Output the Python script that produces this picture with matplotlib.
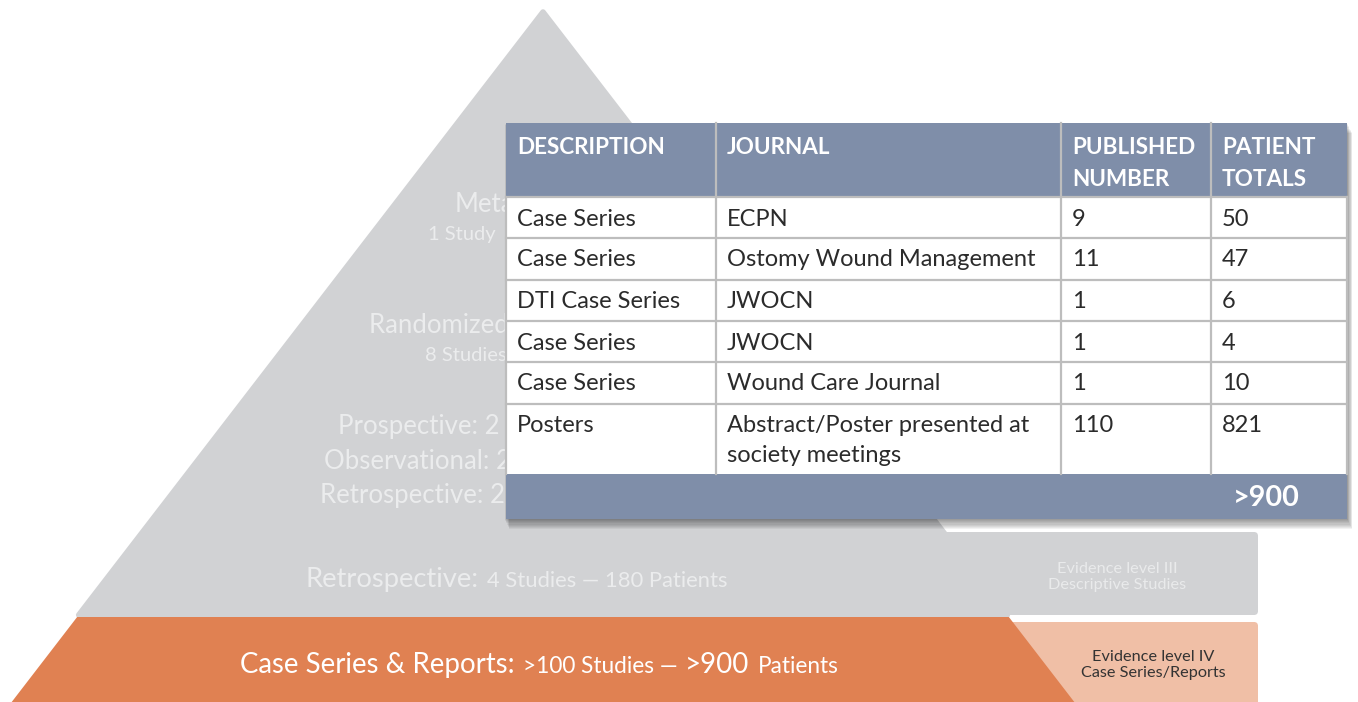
import matplotlib.pyplot as plt
from matplotlib.patches import Polygon, Rectangle, FancyBboxPatch

# table data
headers = ["DESCRIPTION", "JOURNAL", "PUBLISHED\nNUMBER", "PATIENT\nTOTALS"]
descriptions = ["Case Series", "Case Series", "DTI Case Series", "Case Series", "Case Series", "Posters"]
journals = ["ECPN", "Ostomy Wound Management", "JWOCN", "JWOCN", "Wound Care Journal",
            "Abstract/Poster presented at\nsociety meetings"]
published = [9, 11, 1, 1, 1, 110]
patients = [50, 47, 6, 4, 10, 821]
total_label = ">900"

# pyramid levels (label pieces: text, big/small)
top_levels = [
    [("Meta-Analysis", "big")],
    [("1 Study", "small")],
    [("Randomized Controlled Trials", "big")],
    [("8 Studies", "small")],
    [("Prospective: 2 Studies", "big")],
    [("Observational: 2 Studies", "big")],
    [("Retrospective: 2 Studies", "big")],
]
level3_label = [("Retrospective:", "big"), ("4 Studies \u2014 180 Patients", "small")]
level4_label = [("Case Series & Reports:", "big"), (">100 Studies \u2014", "small"),
                (">900", "big"), ("Patients", "small")]
level3_side = "Evidence level III\nDescriptive Studies"
level4_side = "Evidence level IV\nCase Series/Reports"

GRAY = "#D1D2D4"
ORANGE = "#E08152"
SALMON = "#F0BFA6"
HEAD = "#7F8EA9"
PYR_TEXT = "#EBECED"
FONT = "Lato"

W, H = 1358, 702
fig = plt.figure(figsize=(W / 100, H / 100), dpi=100)
ax = fig.add_axes([0, 0, 1, 1])
ax.set_xlim(0, W)
ax.set_ylim(H, 0)
ax.axis("off")

apex_x, apex_y, slope = 543, 12, 0.77


def edge(y, side):
    return apex_x + side * slope * (y - apex_y)


# side boxes
ax.add_patch(FancyBboxPatch((900, 532), 358, 83, boxstyle="round,pad=0,rounding_size=4",
                            fc=GRAY, ec="none", zorder=1))
ax.add_patch(FancyBboxPatch((950, 622), 308, 95, boxstyle="round,pad=0,rounding_size=4",
                            fc=SALMON, ec="none", zorder=1))

# pyramid
ax.add_patch(Polygon([(apex_x, apex_y), (edge(615, -1), 615), (edge(615, 1), 615)],
                     closed=True, fc=GRAY, ec=GRAY, lw=4, joinstyle="round", zorder=2))
ax.add_patch(Polygon([(edge(617, -1), 617), (edge(617, 1), 617),
                      (edge(712, 1), 712), (edge(712, -1), 712)],
                     closed=True, fc=ORANGE, ec="none", zorder=3))

renderer = fig.canvas.get_renderer()
table_clip = Rectangle((0, 0), 506, H, transform=ax.transData)


def draw_runs(x, y, pieces, color, big, small, gap=7, clip=False):
    sizes = {"big": big, "small": small}
    for text, kind in pieces:
        t = ax.text(x, y, text, fontsize=sizes[kind], color=color, family=FONT,
                    va="baseline", ha="left", zorder=4)
        if clip:
            t.set_clip_path(table_clip)
        bb = t.get_window_extent(renderer)
        x += bb.width + gap


top_pos = [(455, 212), (428, 240), (369, 333), (425, 361), (338, 434), (324, 469), (320, 503)]
for (x, y), pieces in zip(top_pos, top_levels):
    draw_runs(x, y, pieces, PYR_TEXT, big=18.5, small=14.5, clip=True)

draw_runs(305, 587, level3_label, PYR_TEXT, big=19.7, small=15.8, gap=9)
draw_runs(240, 673, level4_label, "white", big=19.9, small=16.3, gap=8)

ax.text(1117, 577, level3_side, ha="center", va="center", fontsize=11.7, color="#E9EAEB",
        family=FONT, linespacing=1.2, zorder=4)
ax.text(1153, 665, level4_side, ha="center", va="center", fontsize=11.7, color="#333333",
        family=FONT, linespacing=1.2, zorder=4)

# table
col_edges = [506, 716, 1061, 1211, 1347]
row_edges = [197, 238, 280, 321, 362, 404, 474]
top, foot_bottom = 123, 519
left, right = col_edges[0], col_edges[-1]

# shadow
for i in range(1, 10):
    ax.add_patch(Rectangle((left - 2 + i * 0.6, top + i * 1.1), right - left + 2, foot_bottom - top,
                           fc="black", ec="none", alpha=0.05, zorder=5))

ax.add_patch(Rectangle((left, top), right - left, row_edges[0] - top, fc=HEAD, ec="none", zorder=6))
ax.add_patch(Rectangle((left, row_edges[0]), right - left, row_edges[-1] - row_edges[0],
                       fc="white", ec="none", zorder=6))
ax.add_patch(Rectangle((left, row_edges[-1]), right - left, foot_bottom - row_edges[-1],
                       fc=HEAD, ec="none", zorder=6))

LINE = "#BDBDBD"
for y in row_edges[:-1]:
    ax.plot([left, right], [y, y], color=LINE, lw=1.6, zorder=7)
for x in col_edges[1:-1]:
    ax.plot([x, x], [top, row_edges[-1]], color=LINE, lw=1.6, zorder=7)
ax.plot([left, left], [row_edges[0], row_edges[-1]], color=LINE, lw=1.6, zorder=7)
ax.plot([right, right], [row_edges[0], row_edges[-1]], color=LINE, lw=1.6, zorder=7)

pad = 11
for j, head in enumerate(headers):
    for k, line in enumerate(head.split("\n")):
        ax.text(col_edges[j] + pad, 147 + k * 32, line, fontsize=16.2, fontweight="bold", color="white",
                family=FONT, va="center", ha="left", zorder=8)

rows = list(zip(descriptions, journals, published, patients))
for i, row in enumerate(rows):
    y0 = row_edges[i]
    for j, val in enumerate(row):
        for k, line in enumerate(str(val).split("\n")):
            ax.text(col_edges[j] + pad, y0 + 22 + k * 29, line, fontsize=17, color="#2B2B2B",
                    family=FONT, va="center", ha="left", zorder=8)

ax.text(1300, 498, total_label, fontsize=20.7, fontweight="bold", color="white", family=FONT,
        va="center", ha="right", zorder=8)

fig.savefig("out.png", dpi=100)
